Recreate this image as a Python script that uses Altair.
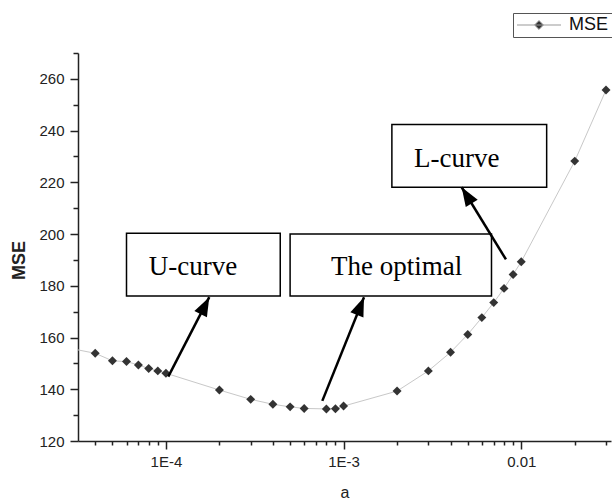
import altair as alt
import pandas as pd

# ---- data ----
a_values = [3e-5, 4e-5, 5e-5, 6e-5, 7e-5, 8e-5, 9e-5, 1e-4, 2e-4, 3e-4, 4e-4, 5e-4,
            6e-4, 8e-4, 9e-4, 1e-3, 2e-3, 3e-3, 4e-3, 5e-3, 6e-3, 7e-3, 8e-3, 9e-3,
            1e-2, 2e-2, 3e-2]
mse_values = [155.6, 153.9, 151.0, 150.7, 149.4, 148.0, 147.1, 146.2, 139.7, 136.1,
              134.2, 133.2, 132.6, 132.4, 132.5, 133.5, 139.3, 147.1, 154.3, 161.2,
              167.7, 173.5, 179.0, 184.4, 189.3, 228.2, 255.7]

x_major_ticks = [1e-4, 1e-3, 1e-2]
x_major_labels = ["1E-4", "1E-3", "0.01"]
x_minor_ticks = [4e-5, 5e-5, 6e-5, 7e-5, 8e-5, 9e-5,
                 2e-4, 3e-4, 4e-4, 5e-4, 6e-4, 7e-4, 8e-4, 9e-4,
                 2e-3, 3e-3, 4e-3, 5e-3, 6e-3, 7e-3, 8e-3, 9e-3,
                 2e-2, 3e-2]
y_major_ticks = [120, 140, 160, 180, 200, 220, 240, 260]
y_minor_ticks = [130, 150, 170, 190, 210, 230, 250, 270]

box_labels = ["U-curve", "The optimal", "L-curve"]
box_x1 = [6.0e-5, 5.0e-4, 1.87e-3]
box_x2 = [4.4e-4, 6.8e-3, 1.39e-2]
box_y1 = [176.1, 176.1, 218.1]
box_y2 = [200.3, 200.0, 242.4]
text_x = [1.42e-4, 1.99e-3, 4.33e-3]
text_y = [184.2, 184.2, 226.0]
arrow_x_from = [1.031e-4, 7.59e-4, 8.2e-3]
arrow_y_from = [144.9, 135.5, 190.2]
arrow_x_to = [1.754e-4, 1.303e-3, 4.62e-3]
arrow_y_to = [175.6, 175.6, 218.1]
arrow_angle = [27, 22, 328]

curve = pd.DataFrame({"a": a_values, "MSE": mse_values, "series": ["MSE"] * len(a_values)})
notes = pd.DataFrame({
    "label": box_labels, "x1": box_x1, "x2": box_x2, "y1": box_y1, "y2": box_y2,
    "tx": text_x, "ty": text_y,
    "ax": arrow_x_from, "ay": arrow_y_from, "bx": arrow_x_to, "by": arrow_y_to,
    "angle": arrow_angle,
})

xscale = alt.Scale(type="log", domain=[3.2e-5, 0.032], nice=False)
yscale = alt.Scale(domain=[120, 270], nice=False, zero=False)

FONT = "Liberation Sans"
AXCOL = "#222222"

vals_js = "[" + ", ".join(repr(v) for v in x_major_ticks) + "]"
labs_js = "[" + ", ".join(f"'{l}'" for l in x_major_labels) + "]"

x_axis = alt.Axis(
    orient="bottom", values=x_major_ticks, grid=False, title="a",
    labelExpr=f"{labs_js}[indexof({vals_js}, datum.value)]",
    tickSize=8, labelOverlap=False, labelFont=FONT, labelFontSize=15, labelColor=AXCOL,
    labelPadding=5, domainColor=AXCOL, domainWidth=1.5, tickColor=AXCOL, tickWidth=1.5,
    titleFont=FONT, titleFontSize=16, titleFontWeight="normal", titleColor=AXCOL,
    titleX=266.5, titleY=56, titleBaseline="alphabetic", titleAlign="center",
)
y_axis = alt.Axis(
    orient="left", values=y_major_ticks, grid=False, title="MSE",
    tickSize=8, labelOverlap=False, labelFont=FONT, labelFontSize=15, labelColor=AXCOL,
    labelPadding=6, domainColor=AXCOL, domainWidth=1.5, tickColor=AXCOL, tickWidth=1.5,
    titleFont=FONT, titleFontSize=18, titleFontWeight="bold", titleColor=AXCOL,
    titleX=-54, titleY=207, titleAngle=270, titleBaseline="alphabetic", titleAlign="center",
)
x_minor_axis = alt.Axis(
    orient="bottom", values=x_minor_ticks, grid=False, title=None, labels=False,
    domain=False, tickSize=4, tickColor=AXCOL, tickWidth=1.5,
)
y_minor_axis = alt.Axis(
    orient="left", values=y_minor_ticks, grid=False, title=None, labels=False,
    domain=False, tickSize=5, tickColor=AXCOL, tickWidth=1.5,
)

line = alt.Chart(curve).mark_line(color="#c8c8c8", strokeWidth=1, clip=True).encode(
    x=alt.X("a:Q", scale=xscale, axis=x_axis),
    y=alt.Y("MSE:Q", scale=yscale, axis=y_axis),
)

legend = alt.Legend(
    title=None, orient="none", legendX=435, legendY=-40,
    symbolType="M-2.75,0L2.75,0M0,-0.55L0.55,0L0,0.55L-0.55,0Z",
    symbolSize=256, symbolOffset=14, labelOffset=21,
    symbolFillColor="#333333", symbolStrokeColor="#999999", symbolStrokeWidth=1,
    labelFont=FONT, labelFontSize=18, labelColor="#111111",
    strokeColor="#555555", padding=3, fillColor="white",
)

points = alt.Chart(curve).mark_point(shape="diamond", filled=True, size=80, opacity=1, clip=True).encode(
    x=alt.X("a:Q", scale=xscale, axis=x_minor_axis),
    y=alt.Y("MSE:Q", scale=yscale, axis=y_minor_axis),
    color=alt.Color("series:N", scale=alt.Scale(domain=["MSE"], range=["#333333"]), legend=legend),
)

boxes = alt.Chart(notes).mark_rect(fill="white", stroke="black", strokeWidth=1.5).encode(
    x=alt.X("x1:Q", scale=xscale, axis=None), x2="x2:Q",
    y=alt.Y("y1:Q", scale=yscale, axis=None), y2="y2:Q",
)

texts = alt.Chart(notes).mark_text(font="Liberation Serif", fontSize=27, baseline="alphabetic",
                                   align="center", color="black").encode(
    x=alt.X("tx:Q", scale=xscale, axis=None),
    y=alt.Y("ty:Q", scale=yscale, axis=None),
    text="label:N",
)

shafts = alt.Chart(notes).mark_rule(color="black", strokeWidth=2.5).encode(
    x=alt.X("ax:Q", scale=xscale, axis=None), x2="bx:Q",
    y=alt.Y("ay:Q", scale=yscale, axis=None), y2="by:Q",
)

heads = alt.Chart(notes).mark_point(shape="M0,0L0.37,1L-0.37,1Z", filled=True, size=1444,
                                    color="black", opacity=1).encode(
    x=alt.X("bx:Q", scale=xscale, axis=None),
    y=alt.Y("by:Q", scale=yscale, axis=None),
    angle=alt.Angle("angle:Q", scale=None),
)

chart = alt.layer(line, points, boxes, texts, shafts, heads).resolve_axis(
    x="independent", y="independent"
).properties(
    width=533, height=388,
    autosize=alt.AutoSizeParams(type="none"),
    padding={"left": 78, "top": 53, "right": 1, "bottom": 58},
    background="white",
).configure_view(stroke=None)

chart.save("out.html", embed_options={"renderer": "svg", "actions": False})
